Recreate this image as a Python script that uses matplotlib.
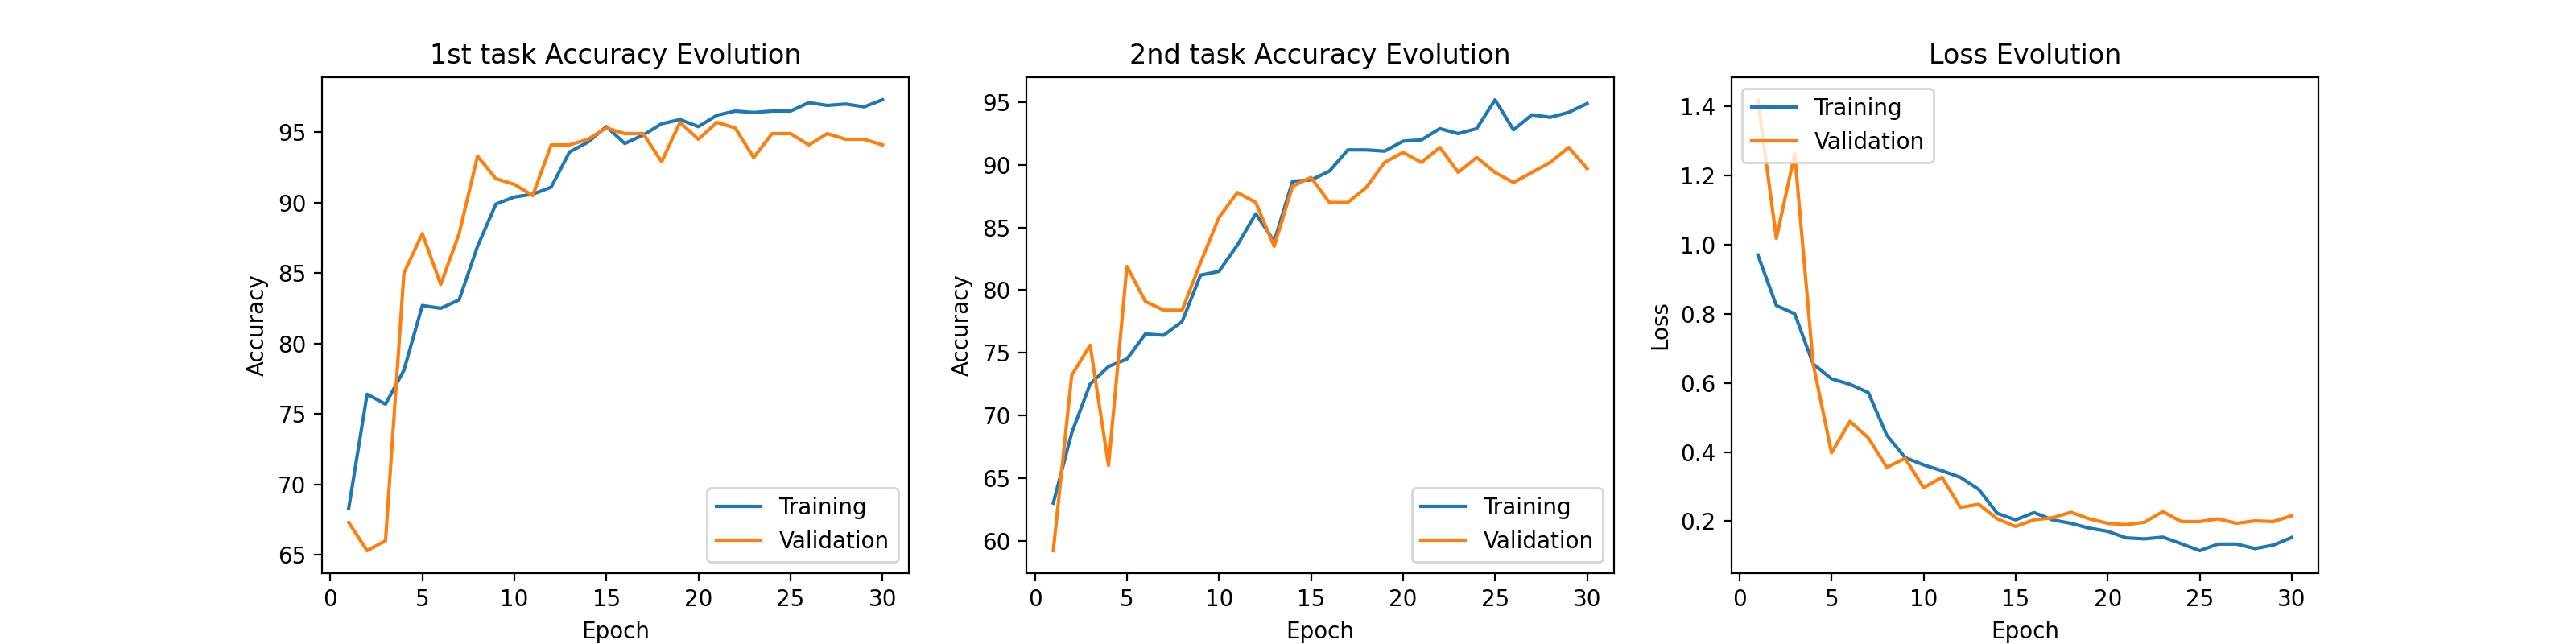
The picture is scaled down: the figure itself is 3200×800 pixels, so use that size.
import numpy as np
import matplotlib
matplotlib.use('Agg')
import matplotlib.pyplot as plt

epochs = np.arange(1, 31)

acc1_train = [68.3, 76.4, 75.7, 78.1, 82.7, 82.5, 83.1, 86.9, 89.9, 90.4,
              90.6, 91.1, 93.6, 94.3, 95.4, 94.2, 94.8, 95.6, 95.9, 95.4,
              96.2, 96.5, 96.4, 96.5, 96.5, 97.1, 96.9, 97.0, 96.8, 97.3]
acc1_val = [67.3, 65.3, 66.0, 85.0, 87.8, 84.2, 87.8, 93.3, 91.7, 91.3,
            90.5, 94.1, 94.1, 94.5, 95.3, 94.9, 94.9, 92.9, 95.7, 94.5,
            95.7, 95.3, 93.2, 94.9, 94.9, 94.1, 94.9, 94.5, 94.5, 94.1]

acc2_train = [63.0, 68.6, 72.5, 73.9, 74.5, 76.5, 76.4, 77.5, 81.2, 81.5,
              83.6, 86.1, 83.9, 88.7, 88.8, 89.5, 91.2, 91.2, 91.1, 91.9,
              92.0, 92.9, 92.5, 92.9, 95.2, 92.8, 94.0, 93.8, 94.2, 94.9]
acc2_val = [59.2, 73.2, 75.6, 66.0, 81.9, 79.1, 78.4, 78.4, 82.2, 85.8,
            87.8, 87.0, 83.5, 88.3, 89.0, 87.0, 87.0, 88.2, 90.2, 91.0,
            90.2, 91.4, 89.4, 90.6, 89.4, 88.6, 89.4, 90.2, 91.4, 89.7]

loss_train = [0.970, 0.824, 0.800, 0.655, 0.612, 0.596, 0.572, 0.449, 0.384, 0.363,
              0.346, 0.327, 0.292, 0.223, 0.204, 0.225, 0.204, 0.194, 0.180, 0.171,
              0.152, 0.149, 0.154, 0.135, 0.115, 0.134, 0.134, 0.121, 0.131, 0.153]
loss_val = [1.419, 1.018, 1.263, 0.655, 0.398, 0.489, 0.441, 0.356, 0.382, 0.297,
            0.327, 0.240, 0.249, 0.207, 0.185, 0.204, 0.210, 0.226, 0.207, 0.194,
            0.190, 0.197, 0.228, 0.199, 0.199, 0.207, 0.194, 0.201, 0.199, 0.216]

fig, axes = plt.subplots(1, 3, figsize=(16, 4))

panels = [
    (acc1_train, acc1_val, "1st task Accuracy Evolution", "Accuracy", "lower right"),
    (acc2_train, acc2_val, "2nd task Accuracy Evolution", "Accuracy", "lower right"),
    (loss_train, loss_val, "Loss Evolution", "Loss", "upper left"),
]
for ax, (tr, va, title, ylab, loc) in zip(axes, panels):
    ax.plot(epochs, tr, label='Training')
    ax.plot(epochs, va, label='Validation')
    ax.set_title(title)
    ax.set_xlabel("Epoch")
    ax.set_ylabel(ylab)
    ax.legend(loc=loc)

plt.savefig("out.png", dpi=200)
